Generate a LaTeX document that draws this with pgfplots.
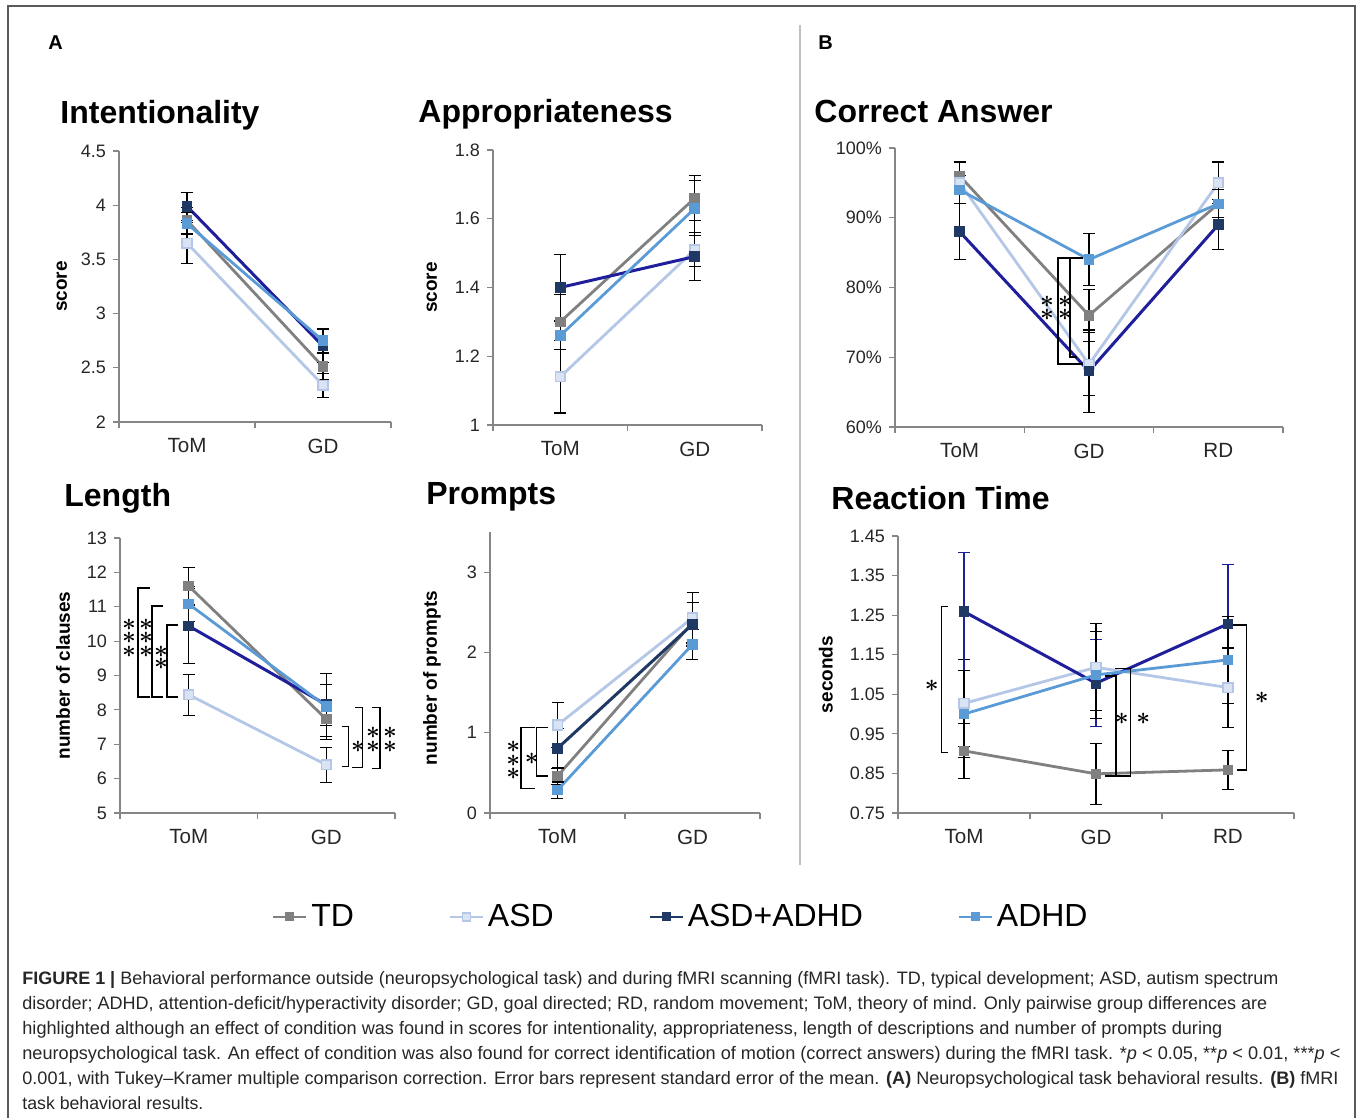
\documentclass[border=0pt]{standalone}
\usepackage{pgfplots}
\pgfplotsset{compat=1.18}
\usepackage{fontspec}
\setmainfont{Liberation Sans}
\definecolor{tdc}{HTML}{808080}
\definecolor{asdl}{HTML}{B4C7E7}
\definecolor{asdf}{HTML}{DAE3F3}
\definecolor{dkb}{HTML}{1F1F9C}
\definecolor{dkm}{HTML}{1F3864}
\definecolor{adc}{HTML}{5B9BD5}
\definecolor{axg}{HTML}{868686}
\definecolor{tlab}{HTML}{262626}
\definecolor{frm}{HTML}{5A5A5A}
\definecolor{sepc}{HTML}{BFBFBF}
\definecolor{capc}{HTML}{262626}

\pgfplotsset{
 panel/.style={scale only axis, anchor=south west, clip=false,
   axis x line*=bottom, axis y line*=left,
   axis line style={-, draw=axg, line width=0.6pt},
   tick align=outside,
   major tick length=3pt, minor tick length=3pt,
   xmin=0, xmax=2, xtick={0.5,1.5}, xticklabels={ToM,GD},
   minor xtick={0,1,2},
   major x tick style={draw=none},
   minor x tick style={draw=axg, line width=0.6pt},
   y tick style={draw=axg, line width=0.6pt},
   /pgf/number format/assume math mode=true,
   xticklabel style={font=\fontsize{10.3}{12}\selectfont, text=tlab, yshift=-1.8pt},
   yticklabel style={font=\fontsize{9}{11}\selectfont, text=tlab},
   ylabel style={font=\fontsize{9.5}{11}\selectfont\bfseries, text=black, anchor=center},
 },
 sTD/.style={color=tdc, line width=1.4pt, mark=square*, mark size=2.4pt, mark options={fill=tdc, draw=tdc, line width=0.5pt}},
 sASD/.style={color=asdl, line width=1.4pt, mark=square*, mark size=2.4pt, mark options={fill=asdf, draw=asdl, line width=0.8pt}},
 sAA/.style={color=dkb, line width=1.5pt, mark=square*, mark size=2.4pt, mark options={fill=dkm, draw=dkm, line width=0.5pt}},
 sAD/.style={color=adc, line width=1.4pt, mark=square*, mark size=2.4pt, mark options={fill=adc, draw=adc, line width=0.5pt}},
 eb/.style={error bars/y dir=both, error bars/y explicit,
   error bars/error bar style={black, line width=0.55pt, solid},
   error bars/error mark options={rotate=90, black, mark size=3pt, line width=0.55pt}},
 ebb/.style={error bars/y dir=both, error bars/y explicit,
   error bars/error bar style={dkb, line width=0.55pt, solid},
   error bars/error mark options={rotate=90, dkb, mark size=3pt, line width=0.55pt}},
}
\newcommand{\st}[2]{\node[inner sep=0pt, font=\fontsize{11.5}{12}\selectfont\boldmath] at (#1,#2) {$\ast$};}

\begin{document}
\begin{tikzpicture}
\useasboundingbox (0pt,0pt) rectangle (678.5pt,-559pt);

% ---------- Intentionality ----------
\begin{axis}[panel, at={(59.5pt,-211pt)}, width=136pt, height=135.5pt,
  ymin=2, ymax=4.5, ytick={2,2.5,3,3.5,4,4.5},
  ylabel={score}, ylabel style={at={(axis description cs:-0.21,0.5)}}]
\addplot[sTD, eb] coordinates {(0.5,3.86) +- (0,0.12) (1.5,2.51) +- (0,0.12)};
\addplot[sASD, eb] coordinates {(0.5,3.65) +- (0,0.19) (1.5,2.34) +- (0,0.11)};
\addplot[sAA, eb] coordinates {(0.5,3.99) +- (0,0.13) (1.5,2.70) +- (0,0.15)};
\addplot[sAD, eb] coordinates {(0.5,3.83) +- (0,0.10) (1.5,2.75) +- (0,0.11)};
\end{axis}

% ---------- Appropriateness ----------
\begin{axis}[panel, at={(246.5pt,-212.5pt)}, width=134.5pt, height=137.5pt,
  ymin=1, ymax=1.8, ytick={1,1.2,1.4,1.6,1.8},
  ylabel={score}, ylabel style={at={(axis description cs:-0.227,0.5)}}]
\addplot[sTD, eb] coordinates {(0.5,1.30) +- (0,0.08) (1.5,1.66) +- (0,0.065)};
\addplot[sASD, eb] coordinates {(0.5,1.14) +- (0,0.105) (1.5,1.51) +- (0,0.05)};
\addplot[sAA, eb] coordinates {(0.5,1.40) +- (0,0.095) (1.5,1.49) +- (0,0.07)};
\addplot[sAD, eb] coordinates {(0.5,1.26) +- (0,0.04) (1.5,1.63) +- (0,0.08)};
\end{axis}

% ---------- Correct Answer ----------
\begin{axis}[panel, at={(447.5pt,-213.5pt)}, width=194pt, height=139.5pt,
  xmax=3, xtick={0.5,1.5,2.5}, xticklabels={ToM,GD,RD}, minor xtick={0,1,2,3},
  ymin=60, ymax=100, ytick={60,70,80,90,100},
  yticklabel={\pgfmathprintnumber{\tick}\%}]
\addplot[sTD, eb] coordinates {(0.5,96) +- (0,2) (1.5,76) +- (0,3.7) (2.5,92) +- (0,2)};
\addplot[sASD, eb] coordinates {(0.5,95) +- (0,3) (1.5,69) +- (0,4.5) (2.5,95) +- (0,3)};
\addplot[sAA, eb] coordinates {(0.5,88) +- (0,4) (1.5,68) +- (0,5.9) (2.5,89) +- (0,3.6)};
\addplot[sAD, eb] coordinates {(0.5,94) +- (0,2) (1.5,84) +- (0,3.7) (2.5,92) +- (0,2)};
\end{axis}

% ---------- Length ----------
\begin{axis}[panel, at={(60pt,-406.5pt)}, width=137.5pt, height=137.5pt,
  ymin=5, ymax=13, ytick={5,6,7,8,9,10,11,12,13},
  ylabel={number of clauses}, ylabel style={at={(axis description cs:-0.207,0.5)}}]
\addplot[sTD, eb] coordinates {(0.5,11.6) +- (0,0.55) (1.5,7.73) +- (0,0.5)};
\addplot[sASD, eb] coordinates {(0.5,8.44) +- (0,0.6) (1.5,6.40) +- (0,0.5)};
\addplot[sAA, eb] coordinates {(0.5,10.44) +- (0,1.09) (1.5,8.15) +- (0,0.6)};
\addplot[sAD, eb] coordinates {(0.5,11.08) +- (0,0.5) (1.5,8.10) +- (0,0.95)};
\end{axis}

% ---------- Prompts ----------
\begin{axis}[panel, at={(245pt,-406.5pt)}, width=135pt, height=140.5pt,
  ymin=0, ymax=3.5, ytick={0,1,2,3},
  ylabel={number of prompts}, ylabel style={at={(axis description cs:-0.215,0.48)}}]
\addplot[sTD, eb] coordinates {(0.5,0.46) +- (0,0.1) (1.5,2.37) +- (0,0.25)};
\addplot[sASD, eb] coordinates {(0.5,1.095) +- (0,0.28) (1.5,2.43) +- (0,0.32)};
\addplot[sAA, eb, color=dkm] coordinates {(0.5,0.805) +- (0,0.25) (1.5,2.35) +- (0,0.27)};
\addplot[sAD, eb] coordinates {(0.5,0.286) +- (0,0.1) (1.5,2.10) +- (0,0.19)};
\end{axis}

% ---------- Reaction Time ----------
\begin{axis}[panel, at={(449pt,-406.5pt)}, width=198pt, height=138.5pt,
  xmax=3, xtick={0.5,1.5,2.5}, xticklabels={ToM,GD,RD}, minor xtick={0,1,2,3},
  ymin=0.75, ymax=1.45, ytick={0.75,0.85,0.95,1.05,1.15,1.25,1.35,1.45},
  yticklabel style={/pgf/number format/.cd, fixed, fixed zerofill, precision=2},
  ylabel={seconds}, ylabel style={at={(axis description cs:-0.182,0.5)}}]
\addplot[sTD, eb] coordinates {(0.5,0.907) +- (0,0.07) (1.5,0.849) +- (0,0.077) (2.5,0.859) +- (0,0.05)};
\addplot[sASD, eb] coordinates {(0.5,1.027) +- (0,0.11) (1.5,1.118) +- (0,0.11) (2.5,1.067) +- (0,0.10)};
\addplot[sAA, ebb] coordinates {(0.5,1.259) +- (0,0.15) (1.5,1.078) +- (0,0.11) (2.5,1.228) +- (0,0.15)};
\addplot[sAD, eb] coordinates {(0.5,1.0) +- (0,0.11) (1.5,1.099) +- (0,0.11) (2.5,1.137) +- (0,0.11)};
\end{axis}

% ---------- Legend ----------
\begin{axis}[at={(0pt,-559pt)}, anchor=south west, scale only axis, width=678.5pt, height=559pt,
  hide axis, xmin=0, xmax=1, ymin=0, ymax=1,
  legend columns=4,
  legend image code/.code={\draw[mark repeat=2,mark phase=2,#1] plot coordinates {(0pt,0pt) (8.25pt,0pt) (16.5pt,0pt)};},
  legend style={at={(0.2004,0.1798)}, anchor=west, draw=none, fill=none, inner sep=0pt,
    font=\fontsize{16}{18}\selectfont, text=black,
    /tikz/every even column/.append style={column sep=45.5pt}}]
\addlegendimage{sTD, line width=1pt, mark size=2pt}
\addlegendentry{TD}
\addlegendimage{sASD, line width=1pt, mark size=2pt}
\addlegendentry{ASD}
\addlegendimage{sAA, color=dkm, line width=1pt, mark size=2pt}
\addlegendentry{ASD+ADHD}
\addlegendimage{sAD, line width=1pt, mark size=2pt}
\addlegendentry{ADHD}
\end{axis}

\begin{scope}[x=0.5pt,y=-0.5pt]
% frame and separator
\draw[frm, line width=1pt] (8,1118) -- (8,6) -- (1355,6) -- (1355,1118);
\draw[sepc, line width=0.8pt] (800,25) -- (800,865);
\node[anchor=base west, inner sep=0pt, font=\fontsize{10}{12}\selectfont\bfseries] at (48,50) {A};
\node[anchor=base west, inner sep=0pt, font=\fontsize{10}{12}\selectfont\bfseries] at (818,50) {B};
% titles
\begin{scope}[every node/.style={anchor=base west, inner sep=0pt, font=\fontsize{16}{18}\selectfont\bfseries}]
\node at (60,124) {Intentionality};
\node at (418,123) {Appropriateness};
\node at (814,123) {Correct Answer};
\node at (64,507) {Length};
\node at (426,505) {Prompts};
\node at (831,510) {Reaction Time};
\end{scope}
% significance annotations
\begin{scope}[black, line width=0.6pt]
% Correct answer
\draw (1083,258) -- (1058,258) -- (1058,364) -- (1083,364);
\draw (1082,258) -- (1070,258) -- (1070,357) -- (1077,357);
\st{1047}{302}\st{1047}{315}\st{1065}{302}\st{1065}{315}
% Length ToM
\draw (150,588) -- (138,588) -- (138,697) -- (150,697);
\draw (163,606) -- (152,606) -- (152,697) -- (163,697);
\draw (178,625) -- (167,625) -- (167,697) -- (178,697);
\st{129}{625}\st{129}{638}\st{129}{652}
\st{146}{625}\st{146}{638}\st{146}{652}
\st{161}{652}\st{161}{664}
% Length GD
\draw (341.7,726.7) -- (348.3,726.7) -- (348.3,766.7) -- (341.7,766.7);
\draw (355,707.7) -- (362.7,707.7) -- (362.7,767.7) -- (351.7,767.7);
\draw (371.7,707.7) -- (380,707.7) -- (380,768.3) -- (371.7,768.3);
\st{358}{747}
\st{373}{733}\st{373}{747}
\st{390}{733}\st{390}{747}
% Prompts
\draw (535,727.7) -- (521,727.7) -- (521,788.3) -- (535,788.3);
\draw (548.3,727.7) -- (536.7,727.7) -- (536.7,776) -- (548.3,776);
\st{513.3}{746.7}\st{513.3}{760.7}\st{513.3}{774.3}
\st{531.7}{759.3}
% Reaction time
\draw (948.3,606.7) -- (941.7,606.7) -- (941.7,752.7) -- (948.3,752.7);
\st{931.7}{686}
\draw (1105,676) -- (1116,676) -- (1116,776) -- (1105,776);
\draw (1115,668.3) -- (1130.7,668.3) -- (1130.7,776) -- (1106.7,776);
\st{1121.7}{719.3}\st{1143.3}{719.3}
\draw (1233.3,625) -- (1246.7,625) -- (1246.7,770) -- (1236.7,770);
\st{1261.7}{698.3}
\end{scope}
% caption
\begin{scope}[every node/.style={anchor=base west, inner sep=0pt, text=capc, font=\fontsize{9.3}{11}\selectfont}]
\node at (22,984) {\resizebox{628pt}{!}{\textbf{FIGURE 1 |} Behavioral performance outside (neuropsychological task) and during fMRI scanning (fMRI task). TD, typical development; ASD, autism spectrum}};
\node at (22,1009) {\resizebox{622.5pt}{!}{disorder; ADHD, attention-deficit/hyperactivity disorder; GD, goal directed; RD, random movement; ToM, theory of mind. Only pairwise group differences are}};
\node at (22,1034) {\resizebox{600pt}{!}{highlighted although an effect of condition was found in scores for intentionality, appropriateness, length of descriptions and number of prompts during}};
\node at (22,1059) {\resizebox{659pt}{!}{neuropsychological task. An effect of condition was also found for correct identification of motion (correct answers) during the fMRI task. *\textit{p} < 0.05, **\textit{p} < 0.01, ***\textit{p} <}};
\node at (22,1084) {\resizebox{658pt}{!}{0.001, with Tukey--Kramer multiple comparison correction. Error bars represent standard error of the mean. \textbf{(A)} Neuropsychological task behavioral results. \textbf{(B)} fMRI}};
\node at (22,1109) {\resizebox{90.5pt}{!}{task behavioral results.}};
\end{scope}
\end{scope}
\end{tikzpicture}
\end{document}
